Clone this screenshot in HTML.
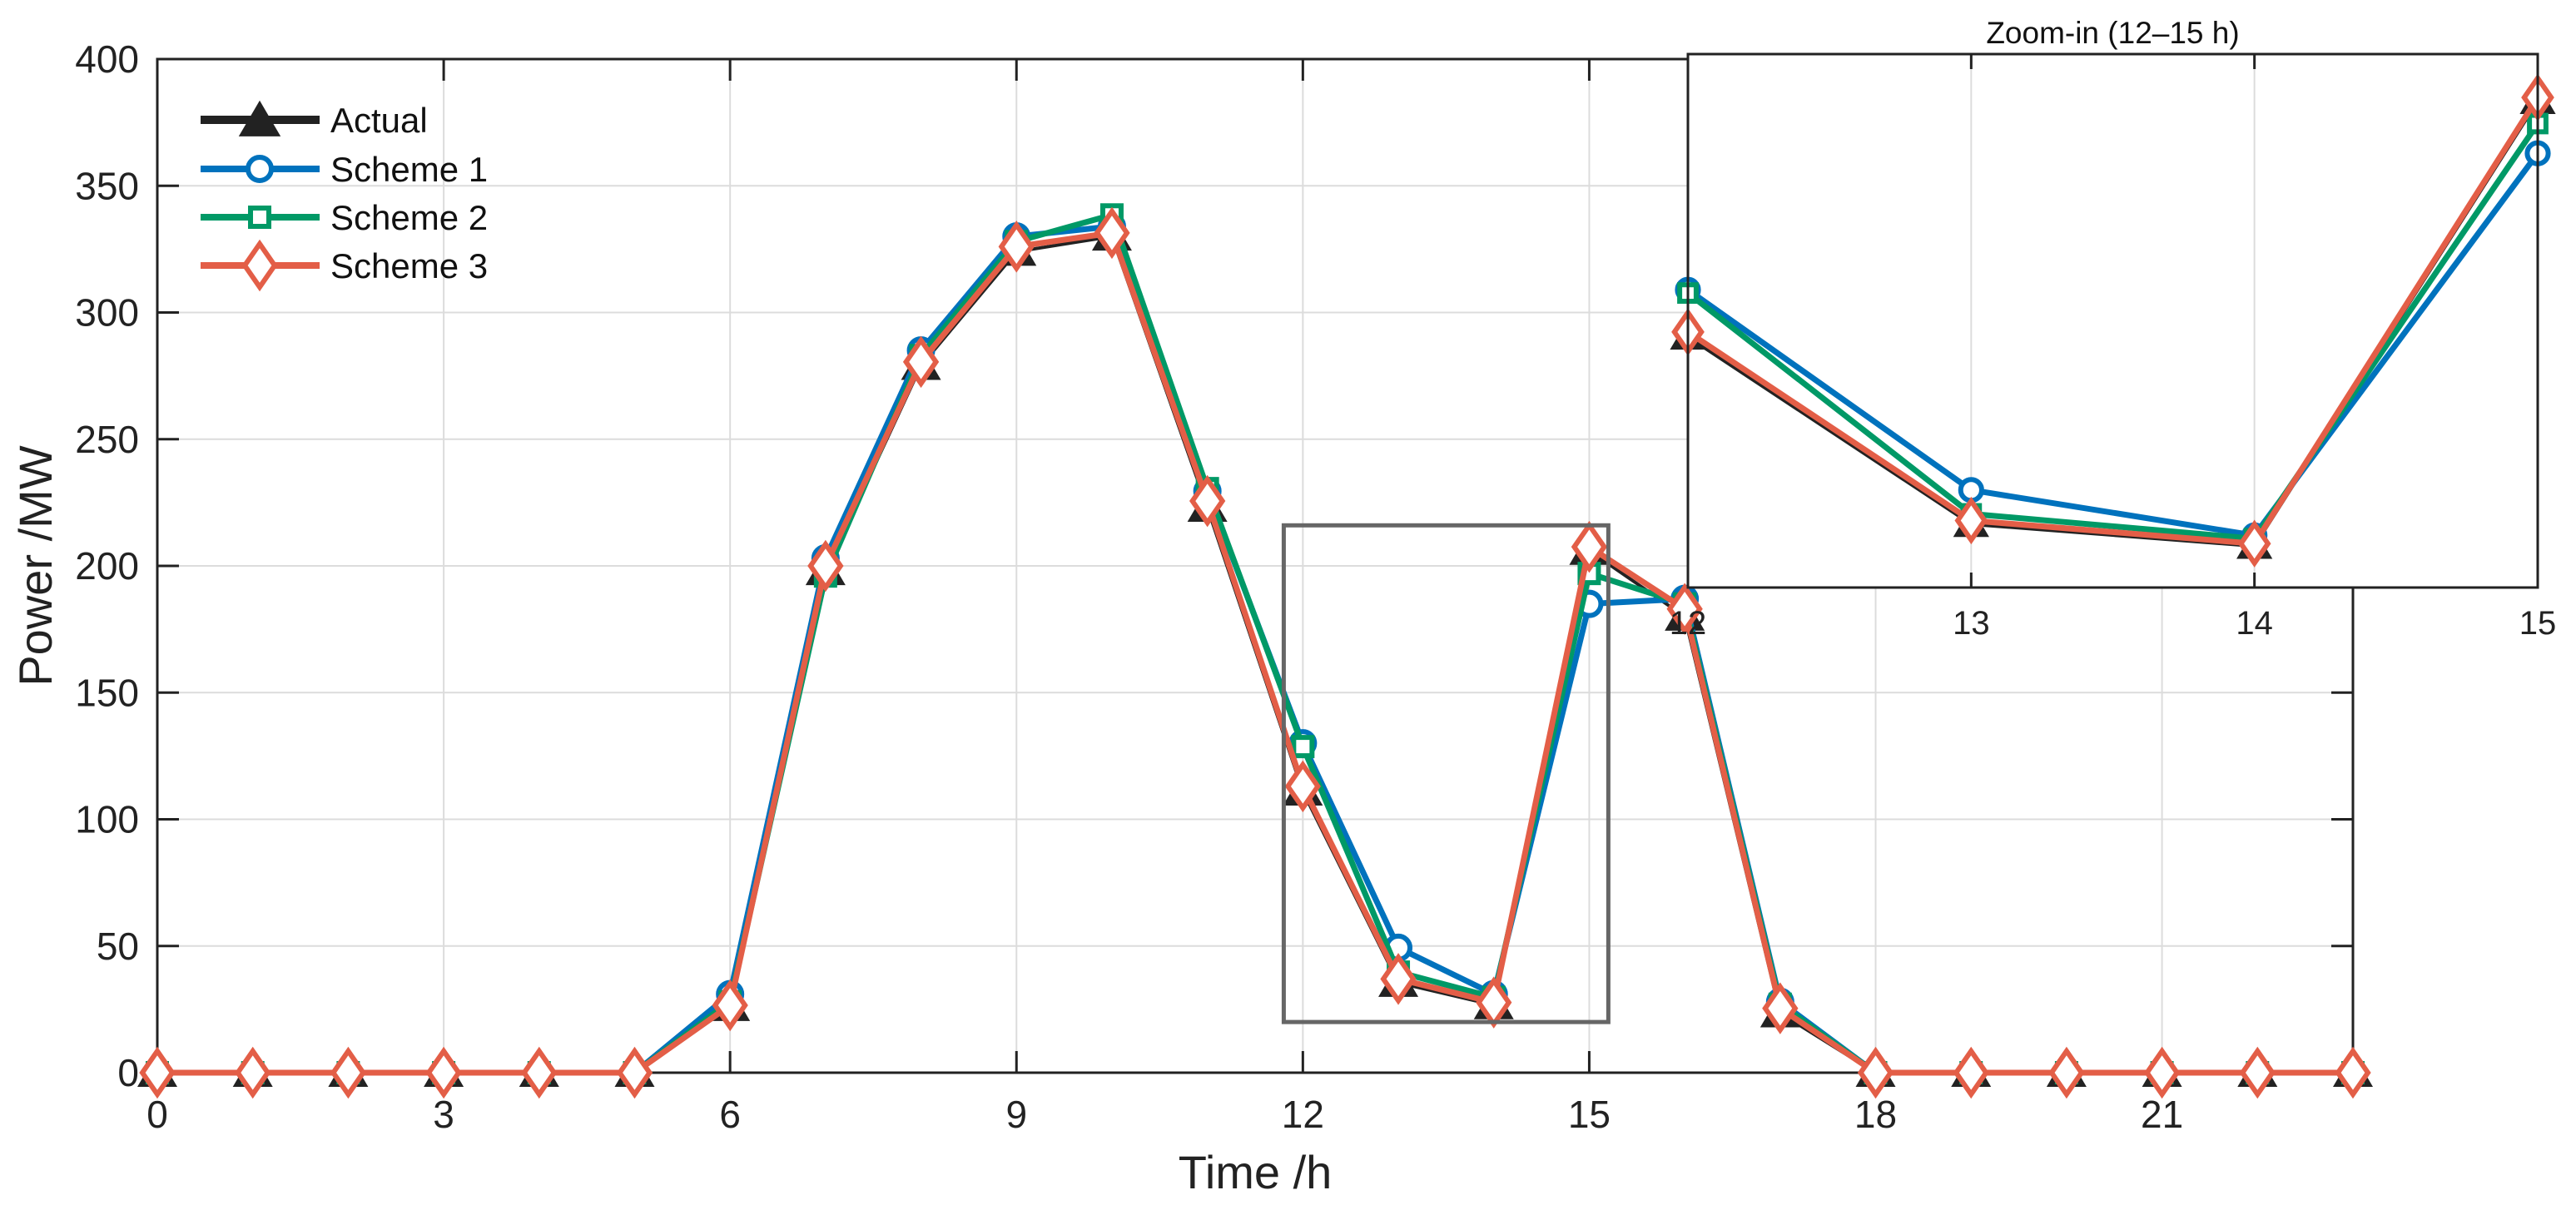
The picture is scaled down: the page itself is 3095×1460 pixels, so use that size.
<!DOCTYPE html>
<html><head><meta charset="utf-8">
<style>
html,body{margin:0;padding:0;background:#fff;}
svg{display:block;font-family:"Liberation Sans",Arial,sans-serif;}
</style></head>
<body>
<svg id="chart" width="3095" height="1460" viewBox="0 0 3095 1460" xmlns="http://www.w3.org/2000/svg"></svg>
<script>
const hours = [0,1,2,3,4,5,6,7,8,9,10,11,12,13,14,15,16,17,18,19,20,21,22,23];
const actual  = [0,0,0,0,0,0,26,198,279,324,330,223,111,35.5,26.7,206,180,23.5,0,0,0,0,0,0];
const scheme1 = [0,0,0,0,0,0,31,203,285,330,334,229.5,130,49.3,31,185,187,28,0,0,0,0,0,0];
const scheme2 = [0,0,0,0,0,0,28,196,283,328,338.5,230.5,128.7,39.7,29.7,197,185,27,0,0,0,0,0,0];
const scheme3 = [0,0,0,0,0,0,26.6,200,280.5,326,331.4,225.6,113,37,27.7,207.5,183,25.4,0,0,0,0,0,0];
const yTicks = [0,50,100,150,200,250,300,350,400];
const xTicks = [0,3,6,9,12,15,18,21];
const insetTicks = [12,13,14,15];
const seriesNames = ["Actual","Scheme 1","Scheme 2","Scheme 3"];

const NS = "http://www.w3.org/2000/svg";
const svg = document.getElementById('chart');
function el(tag, attrs, parent){const e=document.createElementNS(NS,tag);for(const k in attrs)e.setAttribute(k,attrs[k]);(parent||svg).appendChild(e);return e;}

const L=189,R=2827,T=71,B=1289;
const xS = v => L + (v-0)/(23-0)*(R-L);
const yS = v => B - (v-0)/(400-0)*(B-T);
const IL=2028,IR=3049,IT=65,IB=706;
const ixS = v => IL + (v-12)/3*(IR-IL);
const iyS = v => IB - (v-10)/(225-10)*(IB-IT);

const colors=["#222222","#0072BD","#009966","#E35E47"];
const seriesData=[actual,scheme1,scheme2,scheme3];
const seriesKeys=["actual","scheme-1","scheme-2","scheme-3"];

function marker(kind, x, y, color, g, s){
  s = s||1;
  let m;
  if(kind===0){ m=el('polygon',{points:`${x},${y-24*s} ${x-24*s},${y+17*s} ${x+24*s},${y+17*s}`,fill:color},g); }
  else if(kind===1){ m=el('circle',{cx:x,cy:y,r:14*s,fill:'#fff',stroke:color,'stroke-width':6},g); }
  else if(kind===2){ m=el('rect',{x:x-11*s,y:y-11*s,width:22*s,height:22*s,fill:'#fff',stroke:color,'stroke-width':6},g); }
  else { m=el('polygon',{points:`${x},${y-26*s} ${x+18*s},${y} ${x},${y+26*s} ${x-18*s},${y}`,fill:'#fff',stroke:color,'stroke-width':6},g); }
  return m;
}

const bg=el('rect',{x:L,y:T,width:R-L,height:B-T,fill:'#fff'});



const grid=el('g',{stroke:'#dcdcdc','stroke-width':2});


yTicks.forEach(v=>{ if(v>0&&v<400) el('line',{x1:L,x2:R,y1:yS(v),y2:yS(v)},grid); });
xTicks.forEach(v=>{ if(v>0) el('line',{x1:xS(v),x2:xS(v),y1:T,y2:B},grid); });

const axes=el('g',{stroke:'#222','stroke-width':3,fill:'none'});


el('rect',{x:L,y:T,width:R-L,height:B-T},axes);
yTicks.forEach(v=>{ el('line',{x1:L,x2:L+26,y1:yS(v),y2:yS(v)},axes); el('line',{x1:R,x2:R-26,y1:yS(v),y2:yS(v)},axes); });
xTicks.forEach(v=>{ el('line',{x1:xS(v),x2:xS(v),y1:B,y2:B-26},axes); el('line',{x1:xS(v),x2:xS(v),y1:T,y2:T+26},axes); });

yTicks.forEach(v=>{
  const t=el('text',{x:L-22,y:yS(v)+16,'text-anchor':'end','font-size':46,fill:'#222'});
  t.textContent=v;
  
  
});
xTicks.forEach(v=>{
  const t=el('text',{x:xS(v),y:B+66,'text-anchor':'middle','font-size':46,fill:'#222'});
  t.textContent=v;
  
  
});
const yl=el('text',{x:0,y:0,transform:`translate(62,${(T+B)/2}) rotate(-90)`,'text-anchor':'middle','font-size':56,fill:'#222'});
yl.textContent='Power /MW';


const xl=el('text',{x:(L+R)/2,y:1428,'text-anchor':'middle','font-size':56,fill:'#222'});
xl.textContent='Time /h';



function drawSeries(parent, xf, yf, scale, lo, hi){
  seriesData.forEach((d,i)=>{
    const g=el('g',{},parent);
    
    
    const idx=hours.map((h,j)=>j).filter(j=>hours[j]>=lo&&hours[j]<=hi);
    const pts=idx.map(j=>xf(hours[j])+','+yf(d[j])).join(' ');
    const ln=el('polyline',{points:pts,fill:'none',stroke:colors[i],'stroke-width':i===0?4:7,'stroke-linejoin':'round'},g);
    
    
    idx.forEach(j=>{
      const m=marker(i,xf(hours[j]),yf(d[j]),colors[i],g,scale);
      
      
    });
  });
}
const mainG=el('g',{});


drawSeries(mainG,xS,yS,1,0,23);

const zr=el('rect',{x:xS(11.8),y:yS(216),width:xS(15.2)-xS(11.8),height:yS(20)-yS(216),fill:'none',stroke:'#666','stroke-width':5});



const lg=el('g',{});


seriesNames.forEach((n,i)=>{
  const y=[144,203,261,319][i];
  const e=el('g',{},lg);
  
  
  el('line',{x1:241,x2:384,y1:y,y2:y,stroke:colors[i],'stroke-width':i===0?10:8},e);
  marker(i,312,y+(i===0?2:0),colors[i],e,i===0?1.05:1);
  const t=el('text',{x:397,y:y+15,'font-size':42,fill:'#111'},e);
  t.textContent=n;
});

const ins=el('g',{});


el('rect',{x:IL,y:IT,width:IR-IL,height:IB-IT,fill:'#fff'},ins);
[13,14].forEach(v=>el('line',{x1:ixS(v),x2:ixS(v),y1:IT,y2:IB,stroke:'#dcdcdc','stroke-width':2},ins));
const ig=el('g',{},ins);
drawSeries(ig,ixS,iyS,0.9,12,15);
el('rect',{x:IL,y:IT,width:IR-IL,height:IB-IT,fill:'none',stroke:'#222','stroke-width':3},ins);
insetTicks.forEach(v=>{
  el('line',{x1:ixS(v),x2:ixS(v),y1:IB,y2:IB-18,stroke:'#222','stroke-width':3},ins);
  el('line',{x1:ixS(v),x2:ixS(v),y1:IT,y2:IT+18,stroke:'#222','stroke-width':3},ins);
  const t=el('text',{x:ixS(v),y:IB+56,'text-anchor':'middle','font-size':40,fill:'#222'},ins);
  t.textContent=v;
  
  
});
const it=el('text',{x:(IL+IR)/2,y:52,'text-anchor':'middle','font-size':37,fill:'#111'},ins);
it.textContent='Zoom-in (12\u201315 h)';


</script>
</body></html>
